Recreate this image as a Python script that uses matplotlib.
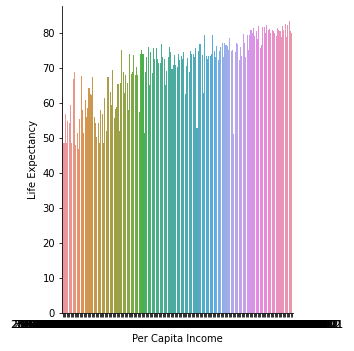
import matplotlib
matplotlib.use("Agg")
import matplotlib.pyplot as plt
import seaborn as sns

# per capita income (categories, sorted ascending, shown as raw strings)
income = [
    277.5518587000001, 284.9301736999999, 291.6345103000002, 301.4472891000001, 309.8623775000003,
    318.0192746000001, 327.5471105999998, 335.2198563000002, 344.8813527000001, 352.1049965000003,
    363.7725390000001, 374.2103855000002, 383.9012437999999, 394.6210934000001, 401.2874611000002,
    413.5503217000001, 425.0938821999998, 436.8812549000001, 447.0926513000002, 459.7031278000001,
    470.2246129999999, 483.6192347000002, 495.5140882000001, 508.1872993000003, 521.6618402000001,
    537.9251376999998, 549.7003815000002, 562.3361794000001, 578.4422106000003, 593.1876540000001,
    611.0052973000002, 627.8345189999999, 641.5290731000001, 659.2876015000002, 677.8921354000001,
    694.3365427000003, 712.6094638999999, 733.1827206000002, 751.4498320000001, 772.9013566000002,
    795.6372081000001, 814.2288934999998, 836.5104772000002, 860.0317495000001, 882.7465213000003,
    906.9183046000001, 931.7529614000002, 958.4410239999999, 983.2075661000001, 1009.448723000002,
    1036.830956100001, 1064.211837400002, 1093.745502900001, 1124.589361200003, 1155.021947800001,
    1188.330562100002, 1219.883705499999, 1254.172398600001, 1290.456712300002, 1325.680493800001,
    1362.219847600003, 1401.553072900001, 1441.907316400002, 1483.268041599999, 1526.714839200001,
    1569.935627100002, 1614.387250600001, 1661.092478300003, 1708.842365700001, 1757.410920800002,
    1808.593174200001, 1860.246913599998, 1914.307845100002, 1969.652108700001, 2026.913540200003,
    2085.471926300001, 2145.806317900002, 2208.164052799999, 2272.519634100001, 2338.740197600002,
    2406.118253400001, 2475.962740800003, 2548.205396100001, 2622.714085900002, 2699.350417200001,
    2777.893162500002, 2859.417603799999, 2942.661258400001, 3028.395071600002, 3116.702843900001,
    3207.541926300003, 3300.985174200001, 3397.216803500002, 3496.328517100001, 3598.404269700002,
    3703.517938400001, 3811.742615099999, 3923.193048700002, 4037.958321600001, 4155.640872300003,
    4277.391046500001, 4402.168539200002, 4530.574210900001, 4662.803957600002, 4798.925613400001,
    4938.717268800003, 5083.058412700001, 5231.196570400002, 5383.629047899999, 5540.712385300001,
    5702.304916800002, 5868.651329700001, 6039.780452100003, 6215.849102600001, 6397.115673400002,
    6583.720538100001, 6775.538241700002, 6973.047196300001, 7176.194038599999, 7385.522961400002,
    7600.842715300001, 7822.563087900002, 8050.891734200001, 8285.724150600003, 8527.396402800001,
    8776.213518700002, 9031.860274300001, 9295.417836100002, 9566.043297500001, 9845.176524900003,
    10132.65309740001, 10427.88315620001, 10731.94206830002, 11044.28713950001, 11366.02850360002,
    11697.21934670001, 12038.45692810002, 12389.64027180001, 12751.25483920002, 13123.10976540001,
    13506.08314270002, 13899.47651280001, 14304.83962170002, 14721.56207340001, 15150.92734850002,
    15592.27418930001, 16046.74605120002, 16514.35896740001, 16995.07342190002, 17490.64183270001,
    18000.37269450002, 18525.10537810001, 19064.94712360002, 19620.78423150001, 20192.61534970002,
    20781.44308620001, 21386.81975340002, 22009.96530170001, 22651.32648790002, 23310.52863410001,
    23989.18406280002, 24688.06293150001, 25406.27359830002, 26146.59718420001, 26907.14035260002,
    27691.83702570001, 28498.47210390002, 29329.51638740001, 30183.26475910002, 31063.80492160001,
    32965.43218750002, 35241.79806320001, 38913.25640370002, 43519.60184290001, 49357.19017000001,
]

life_expectancy = [
    61.9, 48.6, 56.9, 48.6, 55.0, 54.5, 59.4, 48.7, 67.0, 69.0,
    48.0, 51.5, 47.0, 55.4, 67.8, 58.0, 51.5, 61.0, 56.2, 58.6,
    64.3, 62.7, 62.4, 67.6, 56.2, 54.3, 50.3, 54.5, 48.6, 58.0,
    57.0, 48.6, 61.4, 52.2, 67.6,
    67.6, 63.3, 59.5, 69.5, 55.7, 58.5, 58.8, 65.5, 52.0, 65.7,
    75.2, 69.0, 63.0, 68.0, 65.7, 58.0, 74.2, 68.4, 68.8, 73.8,
    68.0, 70.3, 68.0, 57.6, 74.0, 75.2, 74.2, 51.4, 69.0, 73.3,
    76.2, 65.2, 74.5, 68.6, 75.7,
    72.6, 75.9, 72.6, 71.4, 71.4, 76.9, 73.3, 72.6, 65.2, 69.3,
    73.1, 76.0, 74.5, 69.7, 70.9, 73.8, 70.9, 70.3, 74.2, 72.4,
    73.5, 72.6, 74.5, 62.7, 70.6, 72.8, 69.0, 74.8, 74.2, 74.0,
    73.3, 75.7, 52.9, 74.8, 76.9,
    76.9, 73.8, 63.0, 79.5, 73.5, 72.6, 73.5, 73.5, 74.2, 79.5,
    74.8, 73.3, 76.3, 72.4, 74.8, 76.0, 77.1, 73.1, 77.1, 76.7,
    76.3, 75.2, 78.5, 74.8, 75.2, 51.2, 74.5, 77.1, 76.9, 72.4,
    76.0, 73.5, 79.8, 77.1, 73.3,
    79.5, 75.2, 79.5, 80.9, 80.0, 81.4, 79.2, 80.5, 78.3, 82.1,
    75.7, 76.7, 81.7, 81.9, 80.2, 82.4, 80.9, 81.1, 80.0, 80.9,
    80.5, 80.2, 79.2, 81.4, 80.9, 80.5, 79.0, 82.1, 80.9, 82.6,
    78.8, 82.4, 83.6, 80.5, 80.0,
]

labels = [str(v) for v in income]
n = len(labels)

# old seaborn categorical palette: husl at l=.7, desaturated to .75
colors = sns.color_palette(sns.husl_palette(n, l=.7), desat=.75)

fig = plt.figure(figsize=(354 / 72, 351 / 72), dpi=72)
ax = fig.add_axes([62 / 354, 1 - 313.3 / 351, 230.5 / 354, 307.3 / 351])

pos = list(range(n))
ax.bar(pos, life_expectancy, width=0.8, color=colors, linewidth=0)

ax.set_xlim(-0.5, n - 0.5)
ax.set_ylim(0, max(life_expectancy) * 1.05)
ax.set_xticks(pos)
ax.set_xticklabels(labels)
ax.set_yticks(range(0, 81, 10))
ax.set_xlabel("Per Capita Income")
ax.set_ylabel("Life Expectancy")

for s in ["top", "right"]:
    ax.spines[s].set_visible(False)

fig.savefig("out.png", dpi=72)
